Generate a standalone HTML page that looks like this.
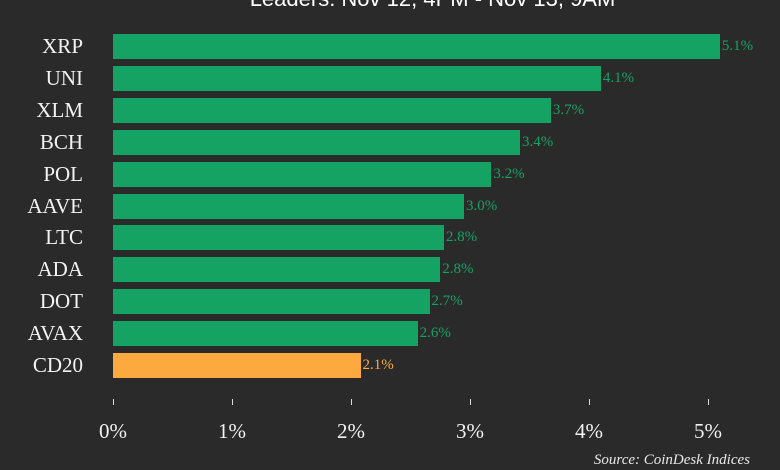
<!DOCTYPE html>
<html><head><style>
body{margin:0;width:780px;height:470px;background:#2a2a2a;overflow:hidden;position:relative;font-family:"Liberation Serif",serif;}
.t{position:absolute;left:0;width:865px;text-align:center;top:-14px;font:22px "Liberation Sans",sans-serif;color:#fff;}
.l{position:absolute;right:697px;font-size:21px;color:#f2f2f2;line-height:25px;}
.b{position:absolute;left:113px;height:25px;background:#14a363;}
.v{position:absolute;font-size:15px;line-height:25px;color:#14a363;}
.tk{position:absolute;top:399px;width:1px;height:6px;background:#ddd;}
.x{position:absolute;top:419px;width:60px;margin-left:-30px;text-align:center;font-size:21px;color:#f2f2f2;}
</style></head><body>
<div class="t">Leaders: Nov 12, 4PM - Nov 13, 9AM</div>
<div id="c"></div>
<script>
var d=[["XRP",5.1,"5.1%"],["UNI",4.1,"4.1%"],["XLM",3.68,"3.7%"],["BCH",3.42,"3.4%"],["POL",3.18,"3.2%"],["AAVE",2.95,"3.0%"],["LTC",2.78,"2.8%"],["ADA",2.75,"2.8%"],["DOT",2.66,"2.7%"],["AVAX",2.56,"2.6%"],["CD20",2.08,"2.1%"]];
var h="";
d.forEach(function(r,i){var y=34+i*31.9,w=r[1]*119,c=i==10?"#fca940":"#14a363";
h+='<div class="l" style="top:'+y+'px">'+r[0]+'</div><div class="b" style="top:'+y+'px;width:'+w+'px;background:'+c+'"></div><div class="v" style="top:'+y+'px;left:'+(115+w)+'px;color:'+c+'">'+r[2]+'</div>';});
for(var k=0;k<=5;k++){var x=113+k*119;h+='<div class="tk" style="left:'+x+'px"></div><div class="x" style="left:'+x+'px">'+k+'%</div>';}
document.getElementById("c").innerHTML=h;
</script>
<div style="position:absolute;right:30px;top:452px;font-size:15px;font-style:italic;color:#e8e8e8;">Source: CoinDesk Indices</div>
</body></html>
